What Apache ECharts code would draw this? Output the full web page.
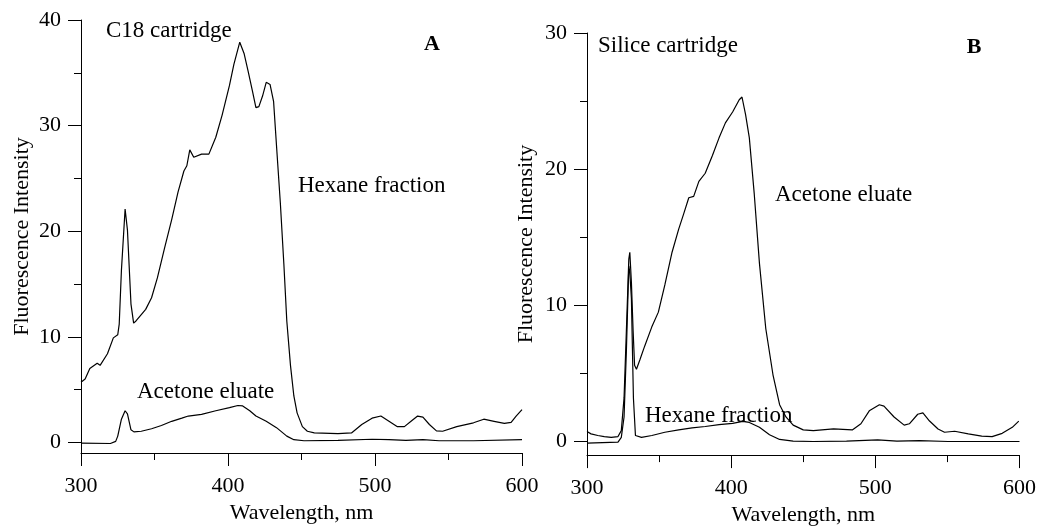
<!DOCTYPE html>
<html>
<head>
<meta charset="utf-8">
<script src="https://cdn.jsdelivr.net/npm/echarts@6/dist/echarts.min.js"></script>
<style>
  html, body { margin: 0; padding: 0; background: #fff; }
  #chart { width: 1039px; height: 531px; }
</style>
</head>
<body>
<div id="chart"></div>
<script>
// panel A : C18 cartridge
var aHexX = [300,302.8,306,311,313,318,322,325,326,327.5,330,331.6,334,335.8,337.4,341,344,348,352,357,361.7,366,370,372,374,376.7,382,387,391.7,396,401,404,408,411,413.6,416.6,419,421,423.5,426,428.6,431,433,435.6,438,440,442.5,444.8,447,450.6,454,458.7,474.8,484,491,498,504,509.5,515,520,524.5,529,532.6,537,541.8,546,555.6,567,574,581,588,592.6,596,600];
var aHexY = [5.7,6.0,7.0,7.5,7.3,8.4,9.9,10.2,11.2,16.3,22.1,20.1,13.1,11.3,11.5,12.1,12.6,13.7,15.6,18.5,21.1,23.7,25.7,26.2,27.7,27.0,27.3,27.3,28.9,31.0,33.8,35.8,37.9,36.8,35.2,33.3,31.7,31.8,32.8,34.1,33.9,32.3,28.1,22.7,16.9,11.5,7.3,4.4,2.8,1.5,1.06,0.9,0.83,0.9,1.7,2.3,2.5,2.0,1.5,1.5,2.0,2.5,2.4,1.7,1.1,1.06,1.5,1.86,2.2,2.0,1.8,1.9,2.5,3.1];
var aAceX = [300,320,323.6,325,327.5,330,331.6,334,336,341,348,354.7,361.7,368.6,373,382,391.7,401,406.7,410,414.8,419,426,433,440,444.8,451.7,474.8,498,509.5,521,532.6,543.6,567,600];
var aAceY = [-0.06,-0.1,0.1,0.6,2.2,3.0,2.7,1.2,1.0,1.06,1.3,1.6,2.0,2.3,2.5,2.66,3.0,3.3,3.5,3.46,3.0,2.5,2.0,1.4,0.6,0.26,0.16,0.2,0.3,0.26,0.2,0.26,0.16,0.16,0.26];

// panel B : Silice cartridge
var bAceX = [300,302.8,307.5,312,316.8,321.5,323.8,325.7,327.3,329,329.7,330.8,332,333,334.3,336.7,340,344.9,349.5,354,359,363.6,367,370.6,374,377.6,382,387,391.6,396,401,405.6,407.5,410,412.6,416,419.6,424,429,433.6,438,443,450,457,471,484,490,495.8,502.8,506,513,520,523.6,529.4,533,537.6,543.5,548,555,564.5,573.8,581,588,595,599.5];
var bAceY = [0.73,0.56,0.44,0.36,0.3,0.36,0.8,3.2,8.1,13.4,13.9,11.7,8.1,5.6,5.3,6.0,7.0,8.4,9.5,11.5,13.9,15.6,16.7,17.9,18.0,19.1,19.7,21.0,22.3,23.4,24.2,25.1,25.3,24.0,22.3,18.2,13.1,8.3,4.9,2.7,1.8,1.2,0.85,0.8,0.92,0.85,1.3,2.25,2.7,2.6,1.8,1.2,1.3,2.0,2.1,1.5,0.92,0.68,0.75,0.56,0.4,0.36,0.6,1.04,1.5];
var bHexX = [300,321.5,323.8,325.7,327.3,329,329.7,330.8,332.2,333.6,337.8,345,354,363.6,372.9,382,391.6,401,408,412.6,419.6,426.6,433.6,443,457,480,501.6,515,530.6,550.5,600];
var bHexY = [-0.12,-0.05,0.3,1.8,6.6,12.9,12.4,10.5,3.2,0.44,0.3,0.44,0.68,0.85,1.0,1.1,1.24,1.33,1.48,1.4,1.04,0.5,0.15,0.02,0,0.02,0.12,0.02,0.07,0,0];

// tick labels
var xTicks = [300, 400, 500, 600];
var aMajor = [0, 10, 20, 30, 40];
var aMinor = [5, 15, 25, 35];
var bMajor = [0, 10, 20, 30];
var bMinor = [5, 15, 25];

var FONT = '"Liberation Serif", "Times New Roman", serif';

function zip(xs, ys) {
    return xs.map(function (x, i) { return [x, ys[i]]; });
}

function xAxisFor(gi) {
    return {
        type: 'value', gridIndex: gi, min: xTicks[0], max: xTicks[xTicks.length - 1], interval: 100,
        name: 'Wavelength, nm', nameLocation: 'middle', nameGap: 46,
        nameTextStyle: { fontFamily: FONT, fontSize: 22, color: '#000' },
        axisLine: { onZero: false, lineStyle: { color: '#000', width: 1 } },
        axisTick: { length: 13, lineStyle: { color: '#000' } },
        minorTick: { show: true, splitNumber: 2, length: 7, lineStyle: { color: '#000' } },
        axisLabel: { margin: 22, fontFamily: FONT, fontSize: 22, color: '#000' },
        splitLine: { show: false }
    };
}

function yAxesFor(gi, max, major, minor, gap) {
    return [{
        type: 'value', gridIndex: gi, min: -1, max: max,
        name: 'Fluorescence Intensity', nameLocation: 'middle', nameGap: gap,
        nameTextStyle: { fontFamily: FONT, fontSize: 22, color: '#000' },
        axisLine: { show: true, lineStyle: { color: '#000', width: 1 } },
        axisTick: { show: true, length: 13, customValues: major, lineStyle: { color: '#000' } },
        axisLabel: { margin: 20, fontFamily: FONT, fontSize: 22, color: '#000', customValues: major },
        splitLine: { show: false }
    }, {
        type: 'value', gridIndex: gi, min: -1, max: max, position: 'left',
        axisLine: { show: false },
        axisTick: { show: true, length: 7, customValues: minor, lineStyle: { color: '#000' } },
        axisLabel: { show: false },
        splitLine: { show: false }
    }];
}

function note(text, x, y, bold) {
    return {
        type: 'text', x: x, y: y, silent: true,
        style: {
            text: text, fill: '#000',
            font: (bold ? 'bold 22px ' : '23px ') + FONT,
            textAlign: bold ? 'center' : 'left', textVerticalAlign: 'middle'
        }
    };
}

function line(xi, yi, xs, ys) {
    return {
        type: 'line', xAxisIndex: xi, yAxisIndex: yi, data: zip(xs, ys),
        showSymbol: false, symbol: 'none', smooth: false,
        lineStyle: { color: '#000', width: 1.2 }, itemStyle: { color: '#000' }
    };
}

var myChart = echarts.init(document.getElementById('chart'));

var option = {
    backgroundColor: '#fff',
    animation: false,
    grid: [
        { left: 81, top: 20, width: 441, height: 433 },
        { left: 587, top: 33, width: 434, height: 432 }
    ],
    xAxis: [xAxisFor(0), xAxisFor(1)],
    yAxis: yAxesFor(0, 40, aMajor, aMinor, 48).concat(yAxesFor(1, 30, bMajor, bMinor, 50)),
    graphic: [
        note('C18 cartridge', 106, 31),
        note('A', 432, 44, true),
        note('Hexane fraction', 298, 186),
        note('Acetone eluate', 137, 392),
        note('Silice cartridge', 598, 46),
        note('B', 974, 47, true),
        note('Acetone eluate', 775, 195),
        note('Hexane fraction', 645, 416)
    ],
    series: [
        line(0, 0, aHexX, aHexY),
        line(0, 0, aAceX, aAceY),
        line(1, 2, bAceX, bAceY),
        line(1, 2, bHexX, bHexY)
    ]
};

myChart.setOption(option);
</script>
</body>
</html>
